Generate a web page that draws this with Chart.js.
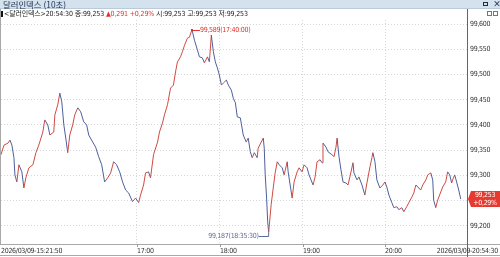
<!DOCTYPE html>
<html>
<head>
<meta charset="utf-8">
<script src="https://cdn.jsdelivr.net/npm/chart.js@4.4.1/dist/chart.umd.min.js"></script>
<style>
  html, body { margin: 0; padding: 0; width: 500px; height: 257px; overflow: hidden; background: #fff; }
  body { position: relative; font-family: 'Noto Sans CJK KR', sans-serif; }
  #wrap { position: absolute; left: 0; top: 0; width: 500px; height: 257px; }
  #titlebar { position: absolute; left: 0; top: 0; width: 500px; height: 9px; background: #d4e2ee;
    border-bottom: 1px solid #b9cadb; box-sizing: border-box; font-size: 8.4px; line-height: 9px; color: #1f2d4d; }
  #titlebar .t { position: absolute; left: 3px; top: 0; }
  #titlebar .x { position: absolute; left: 493px; top: -1px; font-size: 8px; font-weight: bold; }
  #titlebar .r { position: absolute; left: 483px; top: 2px; width: 5px; height: 4px; border: 1px solid #1f2d4d; box-sizing: border-box; }
  #info { position: absolute; left: 1px; top: 9px; height: 10px; font-family: 'DejaVu Sans Condensed', 'Noto Sans CJK KR', sans-serif;
    font-size: 7px; letter-spacing: -0.15px; line-height: 10px; color: #222; white-space: pre; }
  #info .up { color: #e0312a; }
  #info .sq { display: inline-block; width: 2px; height: 6px; background: #111; margin-right: 1px; vertical-align: -1px; }
  .btn { position: absolute; top: 11px; width: 5px; height: 5px; border: 1px solid #777; box-sizing: border-box; background: #fff; }
</style>
</head>
<body>
<div id="wrap"><canvas id="chart" width="500" height="257"></canvas></div>
<div id="titlebar"><span class="t">달러인덱스 (10초)</span><span class="r"></span><span class="x">×</span></div>
<div id="info"><span class="sq"></span>&lt;달러인덱스&gt;20:54:30 종:99,253 <span class="up">▲0,291 +0,29%</span> 시:99,253 고:99,253 저:99,253</div>
<div class="btn" style="left:487px"></div><div class="btn" style="left:493px"></div>
<script>
// minutes after 15:00, one sample per couple of pixels of the reference
const minutes = [
  21.83, 24.0, 26.9, 28.3, 29.7, 31.2, 31.9, 33.3, 34.8, 36.9,
  38.4, 39.8, 42.0, 44.9, 47.1, 49.2, 52.1, 53.5, 55.7, 57.2,
  60.0, 60.8, 62.9, 64.4, 65.8, 67.3, 68.7, 70.1, 71.6, 73.7,
  75.2, 77.4, 79.5, 81.7, 83.8, 85.3, 88.2, 90.3, 92.5, 94.7,
  96.8, 99.0, 101.2, 103.3, 105.5, 107.7, 109.8, 112.0, 114.2, 117.0,
  119.2, 121.4, 122.8, 125.0, 126.4, 128.6, 130.0, 132.2, 135.1, 136.5,
  138.7, 140.1, 142.3, 144.5, 146.6, 148.1, 149.5, 151.7, 153.1, 154.6,
  156.7, 158.2, 160.0, 161.8, 163.9, 165.4, 167.5, 169.0, 171.2, 172.6,
  174.0, 175.5, 176.9, 178.4, 179.8, 181.3, 182.7, 184.9, 186.3, 188.5,
  189.9, 191.4, 192.8, 195.0, 197.1, 199.3, 200.7, 202.2, 203.6, 205.1,
  207.2, 207.9, 210.1, 211.6, 212.3, 213.0, 214.0, 214.8, 215.5, 217.3,
  218.8, 220.2, 221.7, 223.1, 225.3, 226.7, 228.9, 229.6, 232.5, 233.9,
  236.1, 237.5, 239.7, 241.1, 243.3, 244.7, 247.6, 249.1, 250.5, 252.7,
  254.1, 254.8, 257.0, 258.4, 261.3, 262.8, 264.2, 265.0, 266.4, 267.8,
  269.3, 271.4, 272.9, 274.3, 276.5, 277.2, 279.4, 280.8, 283.0, 285.1,
  286.6, 288.8, 290.2, 290.9, 292.4, 293.8, 296.0, 298.1, 299.6, 301.0,
  302.5, 304.6, 306.1, 308.2, 309.7, 311.8, 313.3, 315.4, 316.9, 319.1,
  320.5, 322.0, 323.4, 325.5, 327.0, 329.2, 330.6, 332.8, 334.2, 334.9,
  336.4, 337.8, 340.0, 341.4, 343.6, 345.0, 346.5, 347.9, 348.6, 350.1,
  351.5, 353.0, 354.5
];
const prices = [
  99.341, 99.360, 99.364, 99.370, 99.360, 99.335, 99.301, 99.287, 99.321, 99.307,
  99.275, 99.295, 99.315, 99.321, 99.345, 99.360, 99.386, 99.410, 99.400, 99.380,
  99.386, 99.420, 99.440, 99.463, 99.446, 99.400, 99.374, 99.345, 99.380, 99.400,
  99.420, 99.434, 99.426, 99.406, 99.400, 99.380, 99.366, 99.356, 99.337, 99.321,
  99.287, 99.295, 99.305, 99.327, 99.321, 99.307, 99.287, 99.271, 99.265, 99.248,
  99.255, 99.246, 99.261, 99.281, 99.305, 99.307, 99.295, 99.341, 99.366, 99.386,
  99.404, 99.420, 99.440, 99.473, 99.479, 99.505, 99.525, 99.535, 99.545, 99.558,
  99.572, 99.574, 99.589, 99.568, 99.549, 99.535, 99.533, 99.523, 99.535, 99.525,
  99.578, 99.545, 99.525, 99.513, 99.499, 99.479, 99.483, 99.489, 99.479, 99.469,
  99.453, 99.444, 99.416, 99.414, 99.380, 99.366, 99.374, 99.347, 99.335, 99.345,
  99.335, 99.354, 99.366, 99.374, 99.354, 99.301, 99.255, 99.208, 99.187, 99.242,
  99.275, 99.305, 99.327, 99.321, 99.315, 99.301, 99.327, 99.307, 99.255, 99.287,
  99.307, 99.315, 99.307, 99.321, 99.315, 99.301, 99.281, 99.297, 99.327, 99.331,
  99.325, 99.364, 99.356, 99.347, 99.341, 99.337, 99.356, 99.374, 99.337, 99.311,
  99.287, 99.285, 99.281, 99.297, 99.325, 99.305, 99.291, 99.297, 99.281, 99.261,
  99.285, 99.317, 99.335, 99.345, 99.327, 99.291, 99.275, 99.281, 99.287, 99.277,
  99.261, 99.246, 99.236, 99.238, 99.232, 99.236, 99.228, 99.238, 99.246, 99.257,
  99.265, 99.281, 99.277, 99.271, 99.281, 99.291, 99.301, 99.305, 99.291, 99.251,
  99.236, 99.251, 99.267, 99.277, 99.287, 99.307, 99.301, 99.285, 99.291, 99.301,
  99.287, 99.271, 99.253
];
const tickMinutes = [21.83, 120, 180, 240, 300, 354.5];
const tickLabels = ['2026/03/09-15:21:50', '17:00', '18:00', '19:00', '20:00', '2026/03/09-20:54:30'];
const changePct = '+0,29%';

const UP = '#cf4a43';
const DOWN = '#4d5f9c';
const RED = '#e0312a';
const FONT = '"DejaVu Sans Condensed", "Liberation Sans", sans-serif';

const fmtPrice = (v) => v.toFixed(3).replace('.', ',');
const fmtTime = (m) => {
  const s = Math.round((15 * 60 + m) * 60);
  const p = (n) => String(n).padStart(2, '0');
  return `${p(Math.floor(s / 3600))}:${p(Math.floor(s / 60) % 60)}:${p(s % 60)}`;
};

const overlay = {
  id: 'overlay',
  beforeDraw(chart) {
    chart.ctx.letterSpacing = '-0.3px';
  },
  afterDraw(chart) {
    const { ctx, chartArea, scales: { x, y } } = chart;
    const W = chart.width;
    ctx.save();

    // frame
    ctx.lineWidth = 1;
    ctx.strokeStyle = '#a8a8a8';
    ctx.beginPath();
    ctx.moveTo(0.5, 9);
    ctx.lineTo(0.5, chartArea.bottom);
    ctx.moveTo(0, Math.round(chartArea.bottom) + 0.5);
    ctx.lineTo(W, Math.round(chartArea.bottom) + 0.5);
    ctx.moveTo(0, 255.5);
    ctx.lineTo(W, 255.5);
    ctx.stroke();

    ctx.strokeStyle = RED;
    ctx.beginPath();
    ctx.moveTo(Math.round(chartArea.right) + 0.5, 9);
    ctx.lineTo(Math.round(chartArea.right) + 0.5, chart.height);
    ctx.stroke();

    // x labels
    ctx.font = `7px ${FONT}`;
    ctx.fillStyle = '#333';
    ctx.textBaseline = 'middle';
    tickMinutes.forEach((m, i) => {
      const px = Math.round(x.getPixelForValue(m));
      const last = i === tickMinutes.length - 1;
      if (i > 0 && !last) {
        ctx.strokeStyle = '#999';
        ctx.beginPath();
        ctx.moveTo(px + 0.5, chartArea.bottom);
        ctx.lineTo(px + 0.5, chartArea.bottom + 3);
        ctx.stroke();
      }
      ctx.textAlign = last ? 'right' : 'left';
      ctx.fillText(tickLabels[i], last ? W - 2 : px, chartArea.bottom + 7);
    });

    // high / low markers
    const hi = prices.indexOf(Math.max(...prices));
    const lo = prices.indexOf(Math.min(...prices));
    let px = x.getPixelForValue(minutes[hi]);
    let py = Math.round(y.getPixelForValue(prices[hi])) + 0.5;
    ctx.strokeStyle = RED;
    ctx.fillStyle = RED;
    ctx.fillRect(px - 1, py - 1.5, 2, 2);
    ctx.beginPath();
    ctx.moveTo(px, py);
    ctx.lineTo(px + 8, py);
    ctx.stroke();
    ctx.textAlign = 'left';
    ctx.fillText(`${fmtPrice(prices[hi])}(${fmtTime(minutes[hi])})`, px + 8, py);

    px = x.getPixelForValue(minutes[lo]);
    py = Math.round(y.getPixelForValue(prices[lo])) + 4.5;
    ctx.strokeStyle = '#5b6d9a';
    ctx.fillStyle = '#5b6d9a';
    ctx.beginPath();
    ctx.moveTo(px, py - 4);
    ctx.lineTo(px, py);
    ctx.lineTo(px - 10, py);
    ctx.stroke();
    ctx.textAlign = 'right';
    ctx.fillText(`${fmtPrice(prices[lo])}(${fmtTime(minutes[lo])})`, px - 10, py);

    // last price tag
    const last = prices[prices.length - 1];
    const ly = Math.round(y.getPixelForValue(last));
    const r = chartArea.right;
    ctx.fillStyle = '#e6392f';
    ctx.beginPath();
    ctx.moveTo(r + 1, ly);
    ctx.lineTo(r + 4, ly - 8);
    ctx.lineTo(W, ly - 8);
    ctx.lineTo(W, ly + 8);
    ctx.lineTo(r + 4, ly + 8);
    ctx.closePath();
    ctx.fill();
    ctx.fillStyle = '#fff';
    ctx.textAlign = 'center';
    ctx.fillText(fmtPrice(last), r + 18, ly - 3.5);
    ctx.fillText(changePct, r + 18, ly + 4);

    ctx.restore();
  },
};

new Chart(document.getElementById('chart'), {
  type: 'line',
  data: {
    datasets: [
      {
        data: minutes.map((m, i) => ({ x: m, y: prices[i] })),
        borderWidth: 1,
        pointRadius: 0,
        tension: 0,
        segment: {
          borderColor: (c) => (c.p1.parsed.y >= c.p0.parsed.y ? UP : DOWN),
        },
      },
    ],
  },
  options: {
    responsive: false,
    animation: false,
    events: [],
    layout: { padding: { top: 20, left: 1, right: 0, bottom: 0 } },
    plugins: { legend: { display: false }, tooltip: { enabled: false } },
    scales: {
      x: {
        type: 'linear',
        min: tickMinutes[0],
        max: tickMinutes[tickMinutes.length - 1] + 4.5,
        afterBuildTicks: (s) => { s.ticks = tickMinutes.map((v) => ({ value: v })); },
        afterFit: (s) => { s.height = 13; },
        ticks: { display: false },
        border: { display: false, dash: [1, 2] },
        grid: {
          drawTicks: false,
          color: (c) => (c.index === 0 || c.index === tickMinutes.length - 1 ? 'rgba(0,0,0,0)' : '#d6d6d6'),
        },
      },
      y: {
        position: 'right',
        min: 99.164,
        max: 99.608,
        afterFit: (s) => { s.width = 33; },
        border: { display: false, dash: [1, 2] },
        grid: { drawTicks: false, color: '#d6d6d6' },
        ticks: {
          stepSize: 0.05,
          includeBounds: false,
          padding: 3,
          color: '#333',
          font: { size: 7, family: FONT },
          callback: (v) => fmtPrice(v),
        },
      },
    },
  },
  plugins: [overlay],
});
</script>
</body>
</html>
